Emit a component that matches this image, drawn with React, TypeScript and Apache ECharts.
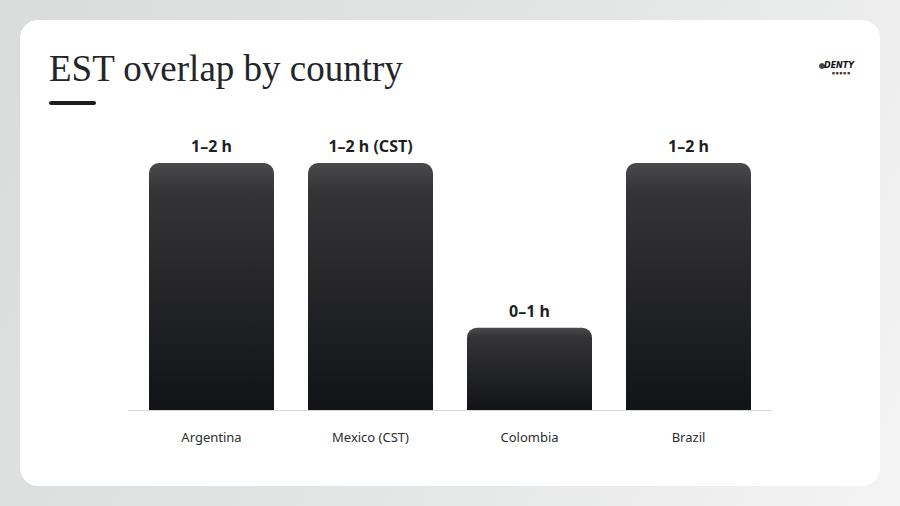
import React, { useEffect, useRef } from "react";
import * as echarts from "echarts";

const categories = ["Argentina", "Mexico (CST)", "Colombia", "Brazil"];
const overlapHours = [1.5, 1.5, 0.5, 1.5];
const overlapLabels = ["1–2 h", "1–2 h (CST)", "0–1 h", "1–2 h"];
const titleText = "EST overlap by country";

export default function App() {
  const ref = useRef<HTMLDivElement>(null);
  useEffect(() => {
    if (!ref.current) return;
    const chart = echarts.init(ref.current, null, { renderer: "svg" });
    chart.setOption({
      animation: false,
      backgroundColor: "transparent",
      title: {
        text: titleText,
        left: 44,
        top: 45,
        textStyle: {
          fontFamily: "Liberation Serif",
          fontWeight: "normal",
          fontSize: 37,
          color: "#23252a",
        },
      },
      graphic: [
        {
          type: "rect",
          z: -10,
          silent: true,
          shape: { x: 20, y: 20, width: 860, height: 466, r: 18 },
          style: { fill: "#ffffff" },
        },
        {
          type: "rect",
          shape: { x: 49, y: 101, width: 47, height: 4, r: 2 },
          style: { fill: "#1c1d20" },
        },
        {
          type: "line",
          z: -5,
          shape: { x1: 128, y1: 410.5, x2: 772, y2: 410.5 },
          style: { stroke: "#d8d8d8", lineWidth: 1 },
        },
        {
          type: "circle",
          shape: { cx: 822, cy: 66, r: 3 },
          style: { fill: "#444" },
        },
        {
          type: "text",
          x: 824,
          y: 61,
          style: {
            text: "DENTY",
            fontFamily: "DejaVu Sans",
            fontWeight: "bold",
            fontStyle: "italic",
            fontSize: 8,
            fill: "#111",
          },
        },
        {
          type: "text",
          x: 832,
          y: 71,
          style: {
            text: "■ ■ ■ ■ ■",
            fontFamily: "DejaVu Sans",
            fontSize: 3,
            fill: "#333",
          },
        },
      ],
      grid: { left: 132, right: 132, top: 163, bottom: 96 },
      xAxis: {
        type: "category",
        data: categories,
        axisTick: { show: false },
        axisLine: { show: false },
        axisLabel: {
          margin: 20,
          fontFamily: "Noto Sans",
          fontSize: 13,
          color: "#2d2e31",
        },
      },
      yAxis: {
        type: "value",
        min: 0,
        max: 1.5,
        show: false,
        splitLine: { show: false },
      },
      series: [
        {
          type: "bar",
          data: overlapHours,
          barWidth: 125,
          itemStyle: {
            borderRadius: [10, 10, 0, 0],
            color: new echarts.graphic.LinearGradient(0, 0, 0, 1, [
              { offset: 0, color: "#4a4a4d" },
              { offset: 0.12, color: "#343437" },
              { offset: 1, color: "#121316" },
            ]),
          },
          label: {
            show: true,
            position: "top",
            distance: 9,
            formatter: (p: any) => overlapLabels[p.dataIndex],
            fontFamily: "Noto Sans",
            fontWeight: "bold",
            fontSize: 16,
            color: "#1e1f22",
          },
        },
      ],
    });
    return () => chart.dispose();
  }, []);
  return (
    <div
      style={{
        position: "fixed",
        left: 0,
        top: 0,
        width: 900,
        height: 506,
        background: "linear-gradient(115deg, #dadbdb 0%, #e3e4e4 50%, #f4f4f4 100%)",
      }}
    >
      <div ref={ref} style={{ width: 900, height: 506 }} />
    </div>
  );
}
